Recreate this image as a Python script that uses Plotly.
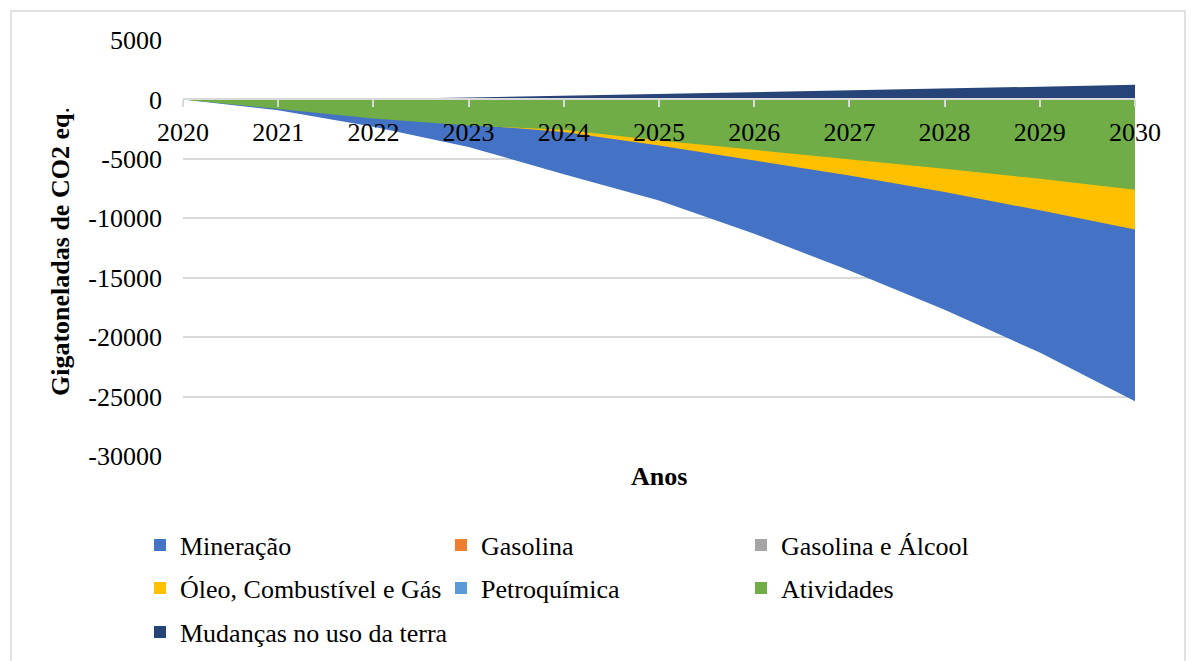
import plotly.graph_objects as go

years = [2020, 2021, 2022, 2023, 2024, 2025, 2026, 2027, 2028, 2029, 2030]

mineracao = [0, -900, -2300, -4000, -6300, -8500, -11300, -14400, -17700, -21300, -25400]
gasolina = [0, -120, -260, -410, -580, -770, -960, -1180, -1400, -1650, -1900]
gasolina_alcool = [0, -90, -190, -300, -420, -550, -690, -840, -1000, -1170, -1350]
oleo = [0, -600, -1250, -2100, -2750, -3870, -5130, -6390, -7790, -9330, -10950]
petroquimica = [0, -60, -130, -210, -300, -400, -510, -630, -760, -900, -1050]
atividades = [0, -800, -1600, -2200, -2550, -3450, -4230, -5020, -5830, -6670, -7590]
mudancas = [0, 10, 40, 170, 310, 450, 600, 760, 920, 1070, 1230]

series_names = ["Mineração", "Gasolina", "Gasolina e Álcool", "Óleo, Combustível e Gás",
                "Petroquímica", "Atividades", "Mudanças no uso da terra"]
series_values = [mineracao, gasolina, gasolina_alcool, oleo, petroquimica, atividades, mudancas]
series_colors = ["#4472C4", "#ED7D31", "#A5A5A5", "#FFC000", "#5B9BD5", "#70AD47", "#264478"]

y_ticks = [5000, 0, -5000, -10000, -15000, -20000, -25000, -30000]
y_ticktext = [str(v) for v in y_ticks]

FONT = "Liberation Serif"
FS = 26

# plot area geometry in px (page 1194x661)
L, R, T, B = 183, 1135, 40, 456
W, H = R - L, B - T


def px_x(px):
    return (px - L) / W


def px_y(py):
    return (B - py) / H


# legend grid: 3 columns, rows as in the reference
leg_cols_px = [140, 441, 741]
leg_rows_px = [545, 588, 632]

fig = go.Figure()

for name, vals, col in zip(series_names, series_values, series_colors):
    fig.add_trace(go.Scatter(
        x=years, y=vals, mode="lines", fill="tozeroy",
        fillcolor=col, line=dict(width=0, color=col),
        name=name, showlegend=False, hoverinfo="x+y+name",
    ))

legend_layouts = {}
for i, (name, col) in enumerate(zip(series_names, series_colors)):
    lg = "legend" if i == 0 else f"legend{i + 1}"
    fig.add_trace(go.Scatter(
        x=[None], y=[None], mode="markers", name=name,
        marker=dict(symbol="square", size=12, color=col),
        legend=lg, showlegend=True,
    ))
    r, c = divmod(i, 3)
    legend_layouts[lg] = dict(
        x=px_x(leg_cols_px[c]), y=px_y(leg_rows_px[r]),
        xanchor="left", yanchor="middle", orientation="h",
        font=dict(family=FONT, size=FS, color="black"),
        bgcolor="rgba(0,0,0,0)", borderwidth=0,
    )

fig.update_layout(
    width=1194, height=661,
    margin=dict(l=L, r=1194 - R, t=T, b=661 - B, autoexpand=False),
    paper_bgcolor="white", plot_bgcolor="white",
    font=dict(family=FONT, size=FS, color="black"),
    xaxis=dict(
        range=[2020, 2030], tickvals=years, ticktext=[str(y) for y in years],
        anchor="free", position=30000 / 35000,
        showline=True, linecolor="#D9D9D9", linewidth=1.5,
        ticks="outside", ticklen=7, tickcolor="#D9D9D9", tickwidth=1.5,
        showgrid=False, zeroline=False,
        tickfont=dict(family=FONT, size=FS, color="black"),
        ticklabelstandoff=3,
    ),
    yaxis=dict(
        range=[-30000, 5000], tickvals=y_ticks, ticktext=y_ticktext,
        showgrid=True, gridcolor="#D9D9D9", gridwidth=1.5,
        zeroline=False, showline=False, ticks="",
        tickfont=dict(family=FONT, size=FS, color="black"),
        ticklabelstandoff=20,
    ),
    showlegend=True,
    **legend_layouts,
)

fig.add_annotation(
    text="<b>Anos</b>", xref="paper", yref="paper",
    x=0.5, y=px_y(476), xanchor="center", yanchor="middle",
    showarrow=False, font=dict(family=FONT, size=FS, color="black"),
)
fig.add_annotation(
    text="<b>Gigatoneladas de CO2 eq</b>.", xref="paper", yref="paper",
    x=px_x(60), y=px_y(251), xanchor="center", yanchor="middle",
    textangle=-90, showarrow=False,
    font=dict(family=FONT, size=FS, color="black"),
)

fig.add_shape(
    type="rect", xref="paper", yref="paper",
    x0=px_x(11), x1=px_x(1185), y0=px_y(675), y1=px_y(11),
    line=dict(color="#D9D9D9", width=1.5), fillcolor="rgba(0,0,0,0)", layer="below",
)

fig.write_html("out.html")
